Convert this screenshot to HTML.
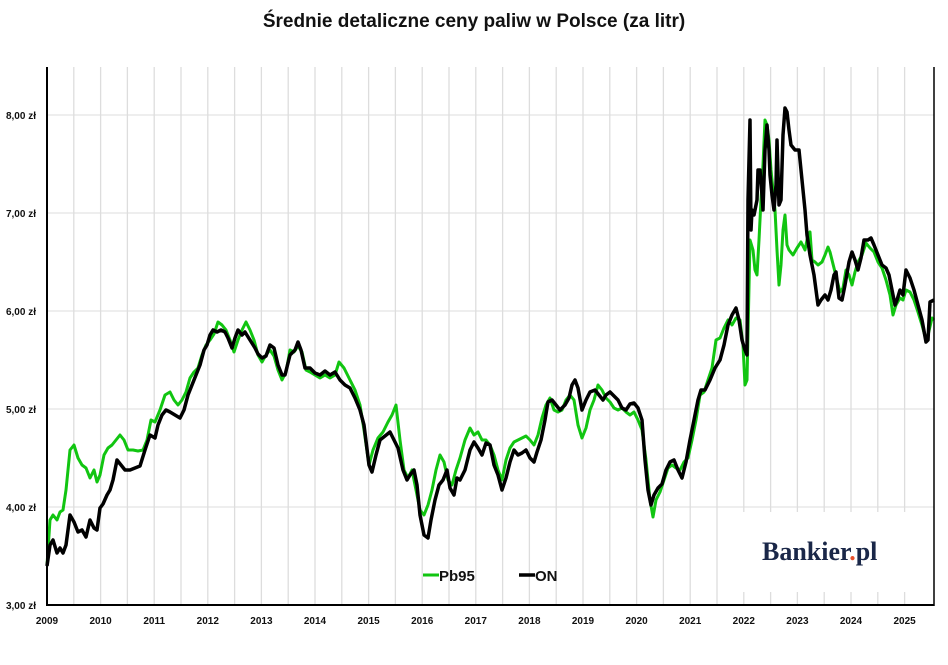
<!DOCTYPE html>
<html><head><meta charset="utf-8"><style>
body{margin:0;background:#fff;width:948px;height:660px;overflow:hidden;font-family:"Liberation Sans",sans-serif}
</style></head><body>
<svg width="948" height="660" xmlns="http://www.w3.org/2000/svg">
<text x="474" y="27" text-anchor="middle" font-family="Liberation Sans, sans-serif" font-weight="bold" font-size="19" fill="#111">Średnie detaliczne ceny paliw w Polsce (za litr)</text>
<g stroke="#ddd" stroke-width="1">
<line x1="47" x2="934" y1="115" y2="115"/><line x1="47" x2="934" y1="213" y2="213"/><line x1="47" x2="934" y1="311" y2="311"/><line x1="47" x2="934" y1="409" y2="409"/><line x1="47" x2="934" y1="507" y2="507"/>
<g id="v"></g>
</g>
<g stroke="#ddd" stroke-width="1.3">
<line x1="73.8" x2="73.8" y1="67" y2="605"/><line x1="100.6" x2="100.6" y1="67" y2="605"/><line x1="127.4" x2="127.4" y1="67" y2="605"/><line x1="154.2" x2="154.2" y1="67" y2="605"/><line x1="181" x2="181" y1="67" y2="605"/><line x1="207.8" x2="207.8" y1="67" y2="605"/><line x1="234.6" x2="234.6" y1="67" y2="605"/><line x1="261.4" x2="261.4" y1="67" y2="605"/><line x1="288.2" x2="288.2" y1="67" y2="605"/><line x1="315" x2="315" y1="67" y2="605"/><line x1="341.8" x2="341.8" y1="67" y2="605"/><line x1="368.6" x2="368.6" y1="67" y2="605"/><line x1="395.4" x2="395.4" y1="67" y2="605"/><line x1="422.2" x2="422.2" y1="67" y2="605"/><line x1="449" x2="449" y1="67" y2="605"/><line x1="475.8" x2="475.8" y1="67" y2="605"/><line x1="502.6" x2="502.6" y1="67" y2="605"/><line x1="529.4" x2="529.4" y1="67" y2="605"/><line x1="556.2" x2="556.2" y1="67" y2="605"/><line x1="583" x2="583" y1="67" y2="605"/><line x1="609.8" x2="609.8" y1="67" y2="605"/><line x1="636.6" x2="636.6" y1="67" y2="605"/><line x1="663.4" x2="663.4" y1="67" y2="605"/><line x1="690.2" x2="690.2" y1="67" y2="605"/><line x1="717" x2="717" y1="67" y2="605"/><line x1="743.8" x2="743.8" y1="67" y2="605"/><line x1="770.6" x2="770.6" y1="67" y2="605"/><line x1="797.4" x2="797.4" y1="67" y2="605"/><line x1="824.2" x2="824.2" y1="67" y2="605"/><line x1="851" x2="851" y1="67" y2="605"/><line x1="877.8" x2="877.8" y1="67" y2="605"/><line x1="904.6" x2="904.6" y1="67" y2="605"/>
</g>
<rect x="742" y="512" width="190" height="80" fill="#fff"/>
<polyline fill="none" stroke="#11c511" stroke-width="3" stroke-linejoin="round" points="47,565 50,520 53,515 57,520 60,512 63,510 66,490 70,450 74,445 78,458 82,465 86,468 90,478 94,470 97,482 100,475 104,455 108,448 112,445 116,440 120,435 124,440 128,450 133,450 138,451 143,450 147,440 151,420 155,422 160,410 165,395 170,392 174,400 178,405 182,400 186,392 190,378 194,372 198,368 202,355 206,345 210,340 214,334 218,322 222,325 226,330 230,340 234,352 238,340 242,330 246,322 250,330 254,340 258,355 262,362 266,355 270,350 274,356 278,370 282,380 286,372 290,350 294,352 298,346 302,352 306,370 310,372 315,375 320,378 325,375 330,378 335,375 339,362 344,368 350,380 355,390 360,405 364,430 369,465 373,450 378,438 383,432 388,422 392,415 396,405 400,440 404,470 408,478 412,470 416,490 420,510 424,515 428,505 432,490 436,470 440,455 444,462 448,480 452,485 456,470 460,458 465,440 470,428 474,435 478,432 482,440 486,440 490,445 494,455 498,470 502,480 506,460 510,448 514,442 518,440 522,438 526,436 530,440 534,445 538,435 542,418 546,405 550,398 554,410 558,412 562,410 566,400 570,395 574,400 578,425 582,438 586,428 590,410 594,400 598,385 602,390 606,398 610,402 614,408 618,410 622,408 626,412 630,415 634,412 638,420 642,430 646,460 650,500 653,517 656,500 660,492 664,480 668,468 672,465 676,468 680,470 684,462 688,458 692,440 696,420 700,395 704,392 708,380 712,368 716,340 720,338 724,328 728,320 732,325 736,318 740,320 743,345 745,385 747,380 750,240 753,250 755,270 757,275 759,240 761,200 763,165 765,120 767,125 769,140 771,170 773,190 775,210 777,250 779,285 781,265 783,230 785,215 787,245 789,250 793,255 797,248 801,242 805,250 808,235 810,232 812,260 815,262 818,265 822,262 825,255 828,247 830,252 834,268 837,280 840,292 843,288 846,270 849,275 852,285 855,272 858,262 862,255 866,243 870,248 874,252 878,262 882,268 886,280 890,295 893,315 896,305 900,298 903,300 906,290 910,292 914,300 918,312 922,325 926,340 928,335 932,318 934,320"/>
<polyline fill="none" stroke="#000" stroke-width="3.5" stroke-linejoin="round" points="47,566 50,545 53,540 57,553 60,548 63,553 66,545 70,515 74,522 78,532 82,530 86,537 90,520 94,528 97,530 100,508 103,504 107,495 110,490 113,480 117,460 121,465 125,470 130,470 135,468 140,466 145,450 150,435 155,438 158,425 162,415 166,410 170,412 175,415 180,418 184,410 188,395 192,385 196,375 200,365 204,350 207,345 210,335 213,330 217,332 221,330 225,332 228,338 232,348 235,338 238,330 242,335 245,332 250,340 255,348 258,354 262,358 266,356 270,345 274,348 278,365 282,375 285,375 290,355 295,350 298,342 301,350 305,368 310,368 315,373 320,375 325,371 330,375 335,372 340,380 345,385 350,388 355,398 360,410 364,425 369,465 372,472 376,455 380,440 385,436 390,432 394,440 398,448 403,470 407,480 410,475 414,470 417,485 420,515 424,535 428,538 431,520 435,500 439,485 443,480 447,470 450,488 454,495 457,478 460,480 465,470 470,450 474,442 478,448 482,455 486,443 490,445 494,465 498,475 502,490 506,478 510,462 514,450 518,455 522,453 526,450 530,458 534,462 537,452 541,440 545,420 548,402 552,400 556,405 560,410 565,405 569,398 572,385 575,380 578,388 582,410 586,400 590,392 595,390 599,395 603,400 606,395 610,392 614,396 618,400 622,408 626,410 630,404 634,403 638,408 642,420 645,460 648,490 651,505 654,495 658,488 662,484 666,470 670,462 674,460 678,470 682,478 686,462 690,440 694,420 698,400 701,390 705,390 710,380 715,368 720,360 724,345 728,325 732,315 736,308 739,320 742,340 745,350 747,355 748,200 750,120 751,230 752,210 754,215 757,200 758,170 760,170 762,195 763,210 765,150 767,125 769,150 770,175 772,195 774,210 776,185 777,140 779,205 781,200 783,135 785,108 787,112 789,130 791,145 795,150 799,150 801,170 805,210 807,235 810,255 814,275 818,305 821,300 825,295 828,300 831,290 834,275 836,272 839,298 842,300 845,285 849,262 852,252 855,260 858,270 861,258 864,240 868,240 871,238 874,245 878,255 882,265 886,268 889,275 892,290 895,305 897,300 900,290 903,295 906,270 910,278 914,290 918,305 922,320 926,342 928,340 930,302 934,300"/>
<line x1="47" y1="67" x2="47" y2="606" stroke="#000" stroke-width="2"/>
<line x1="46" y1="605" x2="934" y2="605" stroke="#000" stroke-width="2"/>
<line x1="934" y1="67" x2="934" y2="606" stroke="#000" stroke-width="1.5"/>
<g font-family="Liberation Sans, sans-serif" font-weight="bold" font-size="10" fill="#111" text-anchor="end">
<text x="36" y="119">8,00 zł</text><text x="36" y="217">7,00 zł</text><text x="36" y="315">6,00 zł</text><text x="36" y="413">5,00 zł</text><text x="36" y="511">4,00 zł</text><text x="36" y="609">3,00 zł</text>
</g>
<g font-family="Liberation Sans, sans-serif" font-weight="bold" font-size="10" fill="#111" text-anchor="middle">
<text x="47" y="624">2009</text><text x="100.6" y="624">2010</text><text x="154.2" y="624">2011</text><text x="207.8" y="624">2012</text><text x="261.4" y="624">2013</text><text x="315" y="624">2014</text><text x="368.6" y="624">2015</text><text x="422.2" y="624">2016</text><text x="475.8" y="624">2017</text><text x="529.4" y="624">2018</text><text x="583" y="624">2019</text><text x="636.6" y="624">2020</text><text x="690.2" y="624">2021</text><text x="743.8" y="624">2022</text><text x="797.4" y="624">2023</text><text x="851" y="624">2024</text><text x="904.6" y="624">2025</text>
</g>
<line x1="423" y1="575" x2="439" y2="575" stroke="#11c511" stroke-width="3"/>
<text x="439" y="581" font-family="Liberation Sans, sans-serif" font-weight="bold" font-size="15" fill="#111">Pb95</text>
<line x1="519" y1="575" x2="535" y2="575" stroke="#000" stroke-width="3.5"/>
<text x="535" y="581" font-family="Liberation Sans, sans-serif" font-weight="bold" font-size="15" fill="#111">ON</text>
<text x="762" y="560" font-family="Liberation Serif, serif" font-weight="bold" font-size="26" fill="#1a2748">Bankier<tspan fill="#e8502a">.</tspan>pl</text>
</svg>
</body></html>
